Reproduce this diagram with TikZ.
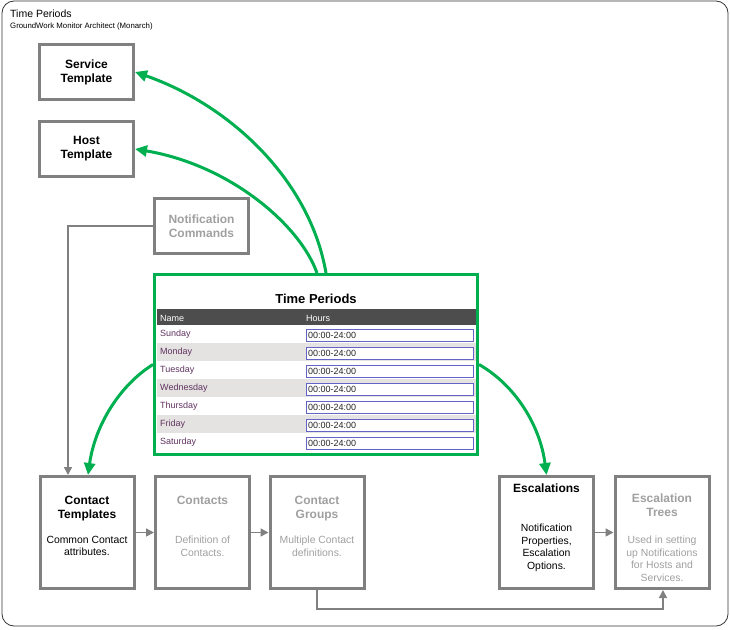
\documentclass[tikz,border=0pt]{standalone}
\usepackage{fontspec}
\setmainfont{Liberation Sans}
\usetikzlibrary{arrows.meta, positioning}
\definecolor{tpgreen}{RGB}{0,176,80}
\definecolor{boxgray}{RGB}{128,128,128}
\definecolor{fadegray}{RGB}{160,160,160}
\definecolor{headgray}{RGB}{77,77,77}
\definecolor{rowgray}{RGB}{228,227,225}
\definecolor{fieldblue}{RGB}{100,100,200}
\definecolor{daypurple}{RGB}{96,50,96}

\begin{document}
\begin{tikzpicture}[x=1pt, y=-1pt,
    box/.style={draw=boxgray, line width=3pt, fill=white, inner sep=0pt, minimum width=94pt, align=center},
    topbox/.style={box, minimum height=55pt, font=\bfseries\fontsize{12}{14}\selectfont},
    lowbox/.style={box, minimum height=112pt},
    ttl/.style={inner sep=0pt, align=center, font=\bfseries\fontsize{12}{14}\selectfont},
    desc/.style={inner sep=0pt, align=center, font=\fontsize{10.4}{12.5}\selectfont},
    cell/.style={anchor=base west, inner sep=0pt, font=\fontsize{9}{10}\selectfont},
    greenarrow/.style={draw=tpgreen, line width=3pt, -{Triangle[length=12pt, width=11pt]}},
    grayarrow/.style={draw=boxgray, line width=1.5pt, -{Triangle[length=8pt, width=8pt]}}]
  \useasboundingbox (0,0) rectangle (730,629);
  % Frame and heading:
  \draw[black!80, line width=0.8pt, rounded corners=12pt] (2,1) rectangle (728,626);
  \node[anchor=base west, inner sep=0pt, font=\fontsize{10.5}{12}\selectfont] (head) at (10,17) {Time Periods};
  \node[anchor=base west, inner sep=0pt, font=\fontsize{7.8}{9}\selectfont] (subhead) at (10,28) {GroundWork Monitor Architect (Monarch)};

  % Upper boxes:
  \node[topbox] (st) at (86.5,72) {Service\\Template};
  \node[topbox] (ht) at (86.5,149) {Host\\Template};
  \node[topbox, text=fadegray] (nc) at (201.5,226) {Notification\\Commands};

  % Lower boxes:
  \node[lowbox] (ct) at (87,532.5) {};
  \node[lowbox] (con) at (202.5,532.5) {};
  \node[lowbox] (cg) at (317,532.5) {};
  \node[lowbox] (esc) at (546.5,532.5) {};
  \node[lowbox] (et) at (662,532.5) {};
  \node[ttl, below=21pt of ct.north] (ctttl) {Contact\\Templates};
  \node[desc, below=61pt of ct.north] (ctdesc) {Common Contact\\attributes.};
  \node[ttl, text=fadegray, below=21pt of con.north] (conttl) {Contacts};
  \node[desc, text=fadegray, below=61pt of con.north] (condesc) {Definition of\\Contacts.};
  \node[ttl, text=fadegray, below=21pt of cg.north] (cgttl) {Contact\\Groups};
  \node[desc, text=fadegray, below=61pt of cg.north] (cgdesc) {Multiple Contact\\definitions.};
  \node[ttl, below=8.5pt of esc.north] (escttl) {Escalations};
  \node[desc, below=49pt of esc.north] (escdesc) {Notification\\Properties,\\Escalation\\Options.};
  \node[ttl, text=fadegray, below=19pt of et.north] (etttl) {Escalation\\Trees};
  \node[desc, text=fadegray, below=61pt of et.north] (etdesc) {Used in setting\\up Notifications\\for Hosts and\\Services.};

  % Time periods table:
  \node[draw=tpgreen, line width=3pt, minimum width=323pt, minimum height=180pt, inner sep=0pt] (tp) at (316,364.5) {};
  \node[anchor=base, inner sep=0pt, font=\bfseries\fontsize{13}{15}\selectfont] (tpttl) at (316,303) {Time Periods};
  \fill[headgray] (157,309) rectangle (476,325);
  \node[cell, text=white] (hname) at (160,321) {Name};
  \node[cell, text=white] (hhours) at (306,321) {Hours};
  \foreach \d [count=\i from 0] in {Sunday,Monday,Tuesday,Wednesday,Thursday,Friday,Saturday} {
    \pgfmathsetmacro\yt{325+18*\i}
    \ifodd\i \fill[rowgray] (157,\yt) rectangle (476,\yt+18); \fi
    \node[cell, text=daypurple] (day\i) at (160,\yt+11) {\d};
    \draw[fieldblue, line width=0.9pt, fill=white] (306,\yt+4) rectangle (473,\yt+16);
    \node[cell, text=black!85] (hrs\i) at (308,\yt+13.3) {00:00-24:00};
  }

  % Green connectors:
  \draw[greenarrow] ([xshift=10pt]tp.north) .. controls (310,180) and (230,105) .. (st.east);
  \draw[greenarrow] ([xshift=1pt]tp.north) .. controls (300,225) and (230,165) .. (ht.east);
  \draw[greenarrow] (tp.west) .. controls (120,385) and (95,425) .. ([xshift=1pt]ct.north);
  \draw[greenarrow] (tp.east) .. controls (515,385) and (540,425) .. (esc.north);

  % Gray connectors:
  \draw[grayarrow] (nc.west) -| ([xshift=-19pt]ct.north);
  \draw[grayarrow] (ct) -- (con);
  \draw[grayarrow] (con) -- (cg);
  \draw[grayarrow] (esc) -- (et);
  \draw[grayarrow] (cg.south) -- ++(0,19) -| ([xshift=1pt]et.south);
\end{tikzpicture}
\end{document}
